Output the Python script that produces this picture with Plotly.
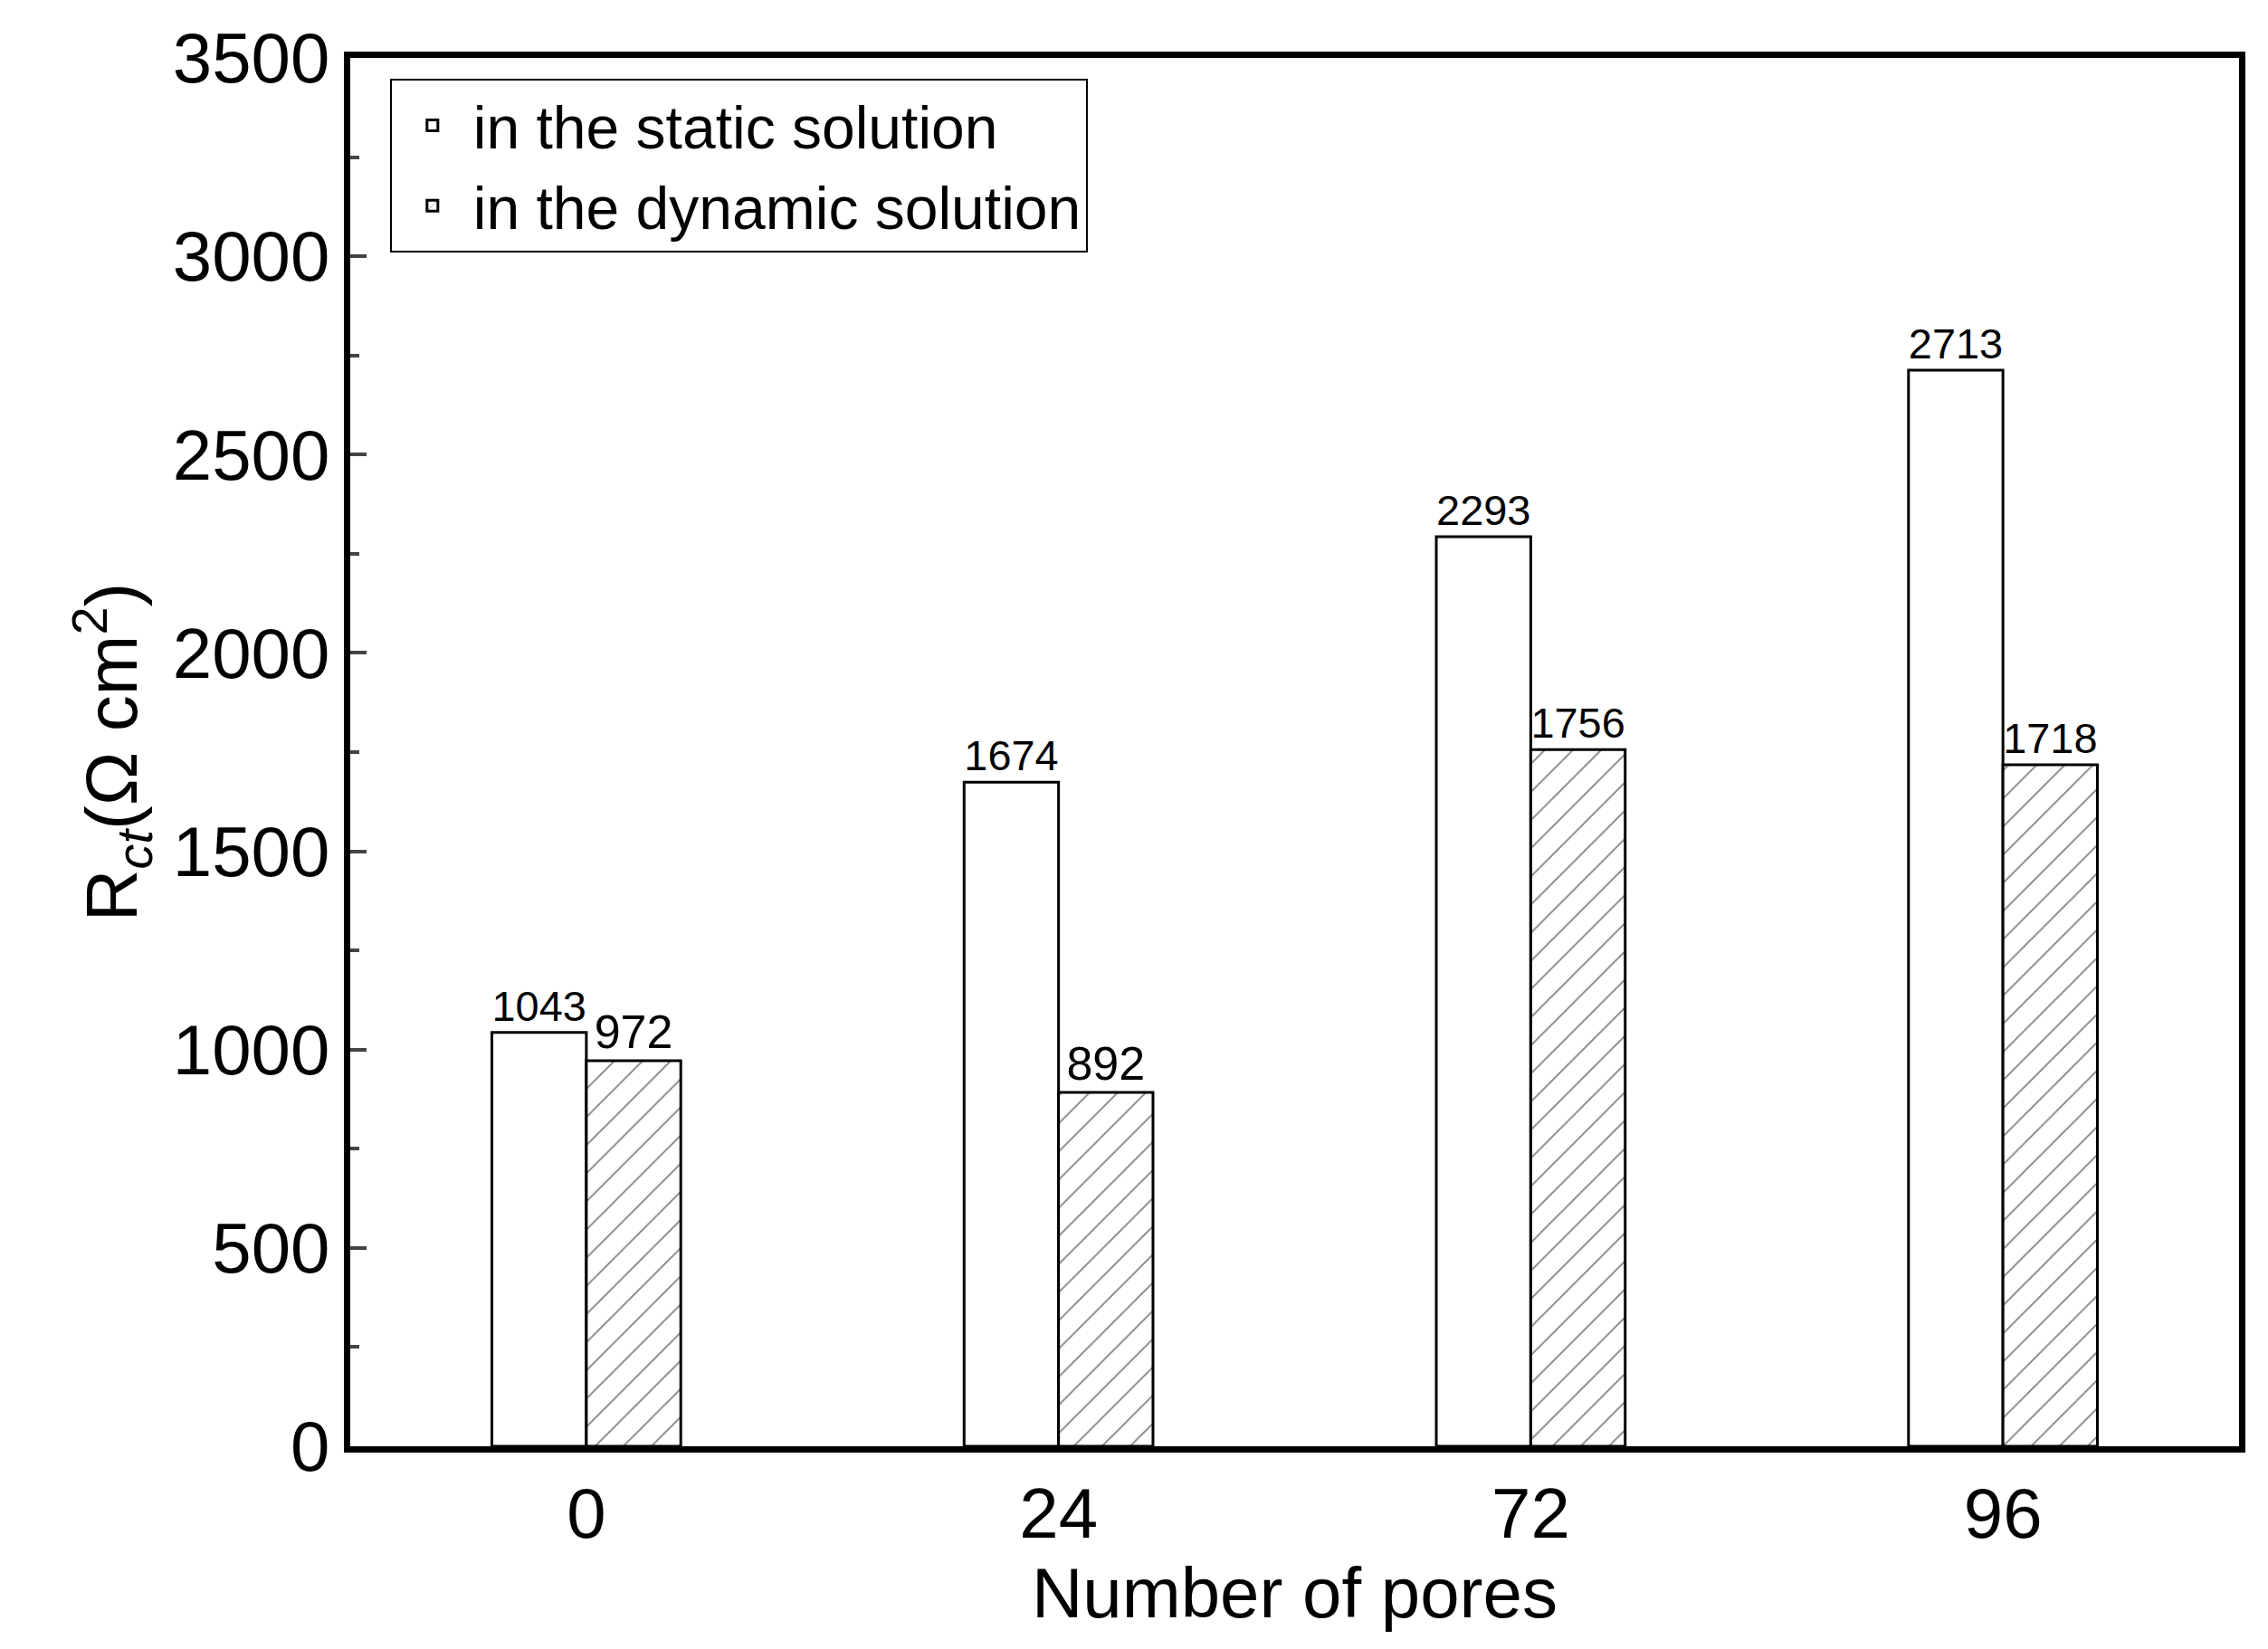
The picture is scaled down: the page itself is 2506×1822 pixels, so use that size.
import plotly.graph_objects as go

categories = ["0", "24", "72", "96"]
static_vals = [1043, 1674, 2293, 2713]
dynamic_vals = [972, 892, 1756, 1718]

F = "Liberation Sans, Arial, sans-serif"
fig = go.Figure()
fig.add_bar(x=categories, y=static_vals, name="in the static solution",
            marker=dict(color="white", line=dict(color="black", width=3)),
            text=[str(v) for v in static_vals], textposition="outside",
            textfont=dict(size=52, color="black", family=F), cliponaxis=False)
fig.add_bar(x=categories, y=dynamic_vals, name="in the dynamic solution",
            marker=dict(color="white", line=dict(color="black", width=3),
                        pattern=dict(shape="/", fgcolor="black", bgcolor="white", size=22, solidity=0.08)),
            text=[str(v) for v in dynamic_vals], textposition="outside",
            textfont=dict(size=52, color="black", family=F), cliponaxis=False)

fig.update_layout(
    width=2506, height=1822, barmode="group", bargap=0.6, bargroupgap=0,
    plot_bgcolor="white", paper_bgcolor="white",
    margin=dict(l=379, r=40, t=53, b=232),
    font=dict(family=F, color="black"),
    legend=dict(x=0.021, y=0.985, xanchor="left", yanchor="top",
                bordercolor="black", borderwidth=2, bgcolor="white",
                font=dict(size=66, family=F), itemwidth=80),
    xaxis=dict(range=[-0.5, 3.5], showline=True, linecolor="black", linewidth=7, mirror=True,
               ticks="", tickfont=dict(size=78, family=F),
               title=dict(text="Number of pores", font=dict(size=78, family=F), standoff=0)),
    yaxis=dict(range=[0, 3500], dtick=500, showline=True, linecolor="black", linewidth=7, mirror=True,
               showgrid=False, zeroline=False, ticks="inside", ticklen=18, tickwidth=4,
               minor=dict(dtick=250, ticks="inside", ticklen=10, tickwidth=4),
               tickfont=dict(size=78, family=F),
               title=dict(text="R<sub><i>ct</i></sub>(Ω cm<sup>2</sup>)", font=dict(size=80, family=F), standoff=15)),
)
fig.write_html("out.html")
